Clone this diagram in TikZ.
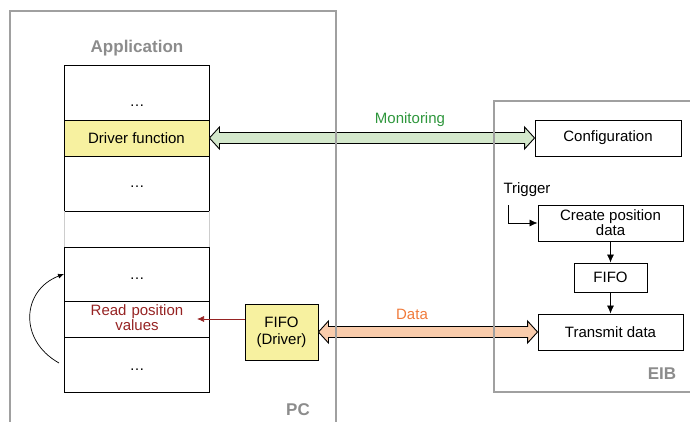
\documentclass[tikz,border=0pt]{standalone}
\usepackage{fontspec}
\setmainfont{Liberation Sans}
\usetikzlibrary{arrows.meta,calc}

\definecolor{frame}{RGB}{160,160,160}
\definecolor{framelight}{RGB}{205,205,205}
\definecolor{titlegrey}{RGB}{140,140,140}
\definecolor{drvyellow}{RGB}{247,241,160}
\definecolor{monfill}{RGB}{212,232,204}
\definecolor{monlabel}{RGB}{46,150,60}
\definecolor{datafill}{RGB}{249,204,172}
\definecolor{datalabel}{RGB}{240,122,58}
\definecolor{readred}{RGB}{150,35,35}

\tikzset{
  layer/.style={draw=black, line width=0.9pt, minimum width=145pt, inner sep=0pt, align=center},
  block/.style={draw=black, line width=0.9pt, inner sep=0pt, align=center},
  title/.style={font=\fontsize{17}{19}\selectfont\bfseries, text=titlegrey},
  flow/.style={-{Latex[length=8pt,width=7pt]}, line width=0.8pt},
  fat/.style={draw=black, line width=0.9pt},
  ellip/.style={anchor=base, inner sep=0pt},
}

% double-headed broad arrow between two points on the same horizontal line
\newcommand\broadarrow[3]{%
  \draw[fat, fill=#3] (#1) -- ++(10,-11) -- ++(0,5.5) -- ($(#2)+(-10,-5.5)$)
    -- ++(0,-5.5) -- (#2) -- ++(-10,11) -- ++(0,-5.5) -- ($(#1)+(10,5.5)$)
    -- ++(0,5.5) -- cycle;}

\begin{document}
\begin{tikzpicture}[x=1pt, y=-1pt, font=\fontsize{15}{17}\selectfont]
\useasboundingbox (0,0) rectangle (690,422);

% application stack
\node[title] (app) at (137,48) {Application};
\node[layer, minimum height=55pt] (top1) at (136.5,92.5) {};
\node[layer, minimum height=36pt, fill=drvyellow] (drv) at (136.5,138) {Driver function};
\node[layer, minimum height=55pt] (top3) at (136.5,183.5) {};
\draw[framelight, line width=0.9pt] (64,211) -- (64,247) (209,211) -- (209,247);
\node[layer, minimum height=54pt] (bot1) at (136.5,274) {};
\node[layer, minimum height=36pt] (read) at (136.5,319) {};
\node[align=center, text=readred, font=\fontsize{15}{17}\selectfont, text width=130pt]
  (readtxt) at (137,318) {Read position\\[-2pt]values};
\node[layer, minimum height=55pt] (bot3) at (136.5,364.5) {};

% elided entries of the stack
\node[ellip] (d1) at (137,107) {\dots};
\node[ellip] (d2) at (137,188) {\dots};
\node[ellip] (d3) at (137,279) {\dots};
\node[ellip] (d4) at (137,370) {\dots};

% loop back over the read step
\coordinate (loopA) at (59,363);
\coordinate (loopB) at (64,274);
\draw[flow, line width=0.7pt, -{Latex[length=6pt,width=5pt]}] (loopA)
  .. controls (18,340) and (22,290) .. (loopB);

% driver FIFO
\node[block, fill=drvyellow, minimum width=73pt, minimum height=56pt] (fifod) at (281.5,332) {FIFO\\(Driver)};
\coordinate (readend) at (197,319);
\draw[readred, line width=0.7pt, -{Latex[length=7pt,width=6pt]}] (fifod.west |- readend) -- (readend);

% EIB side
\node[block, minimum width=146pt, minimum height=36pt] (cfg) at (608,138) {Configuration};
\node[block, minimum width=145pt, minimum height=36pt] (create) at (610.5,223) {Create position\\[-2pt]data};
\node[block, minimum width=73pt, minimum height=29pt] (fifo) at (610.5,277.5) {FIFO};
\node[block, minimum width=145pt, minimum height=36pt] (tx) at (610.5,332) {Transmit data};
\node[anchor=west] (trig) at (500,190) {Trigger};
\coordinate (trigstart) at (508,205);
\draw[flow, line width=0.7pt] (trigstart) |- (create.west);
\draw[flow, line width=0.7pt] (create) -- (fifo);
\draw[flow, line width=0.7pt] (fifo) -- (tx);

% interface arrows
\broadarrow{drv.east}{cfg.west}{monfill}
\node[text=monlabel] (mon) at (410,120) {Monitoring};
\broadarrow{fifod.east}{tx.west}{datafill}
\node[text=datalabel] (data) at (412,314) {Data};

% system frames
\draw[frame, line width=1.3pt] (10,423) -- (10,11) -- (336,11) -- (336,423);
\draw[frame, line width=1.3pt] (691,101) -- (494,101) -- (494,392) -- (691,392);
\node[title] (pc) at (298,410) {PC};
\node[title] (eib) at (662,374) {EIB};
\end{tikzpicture}
\end{document}
